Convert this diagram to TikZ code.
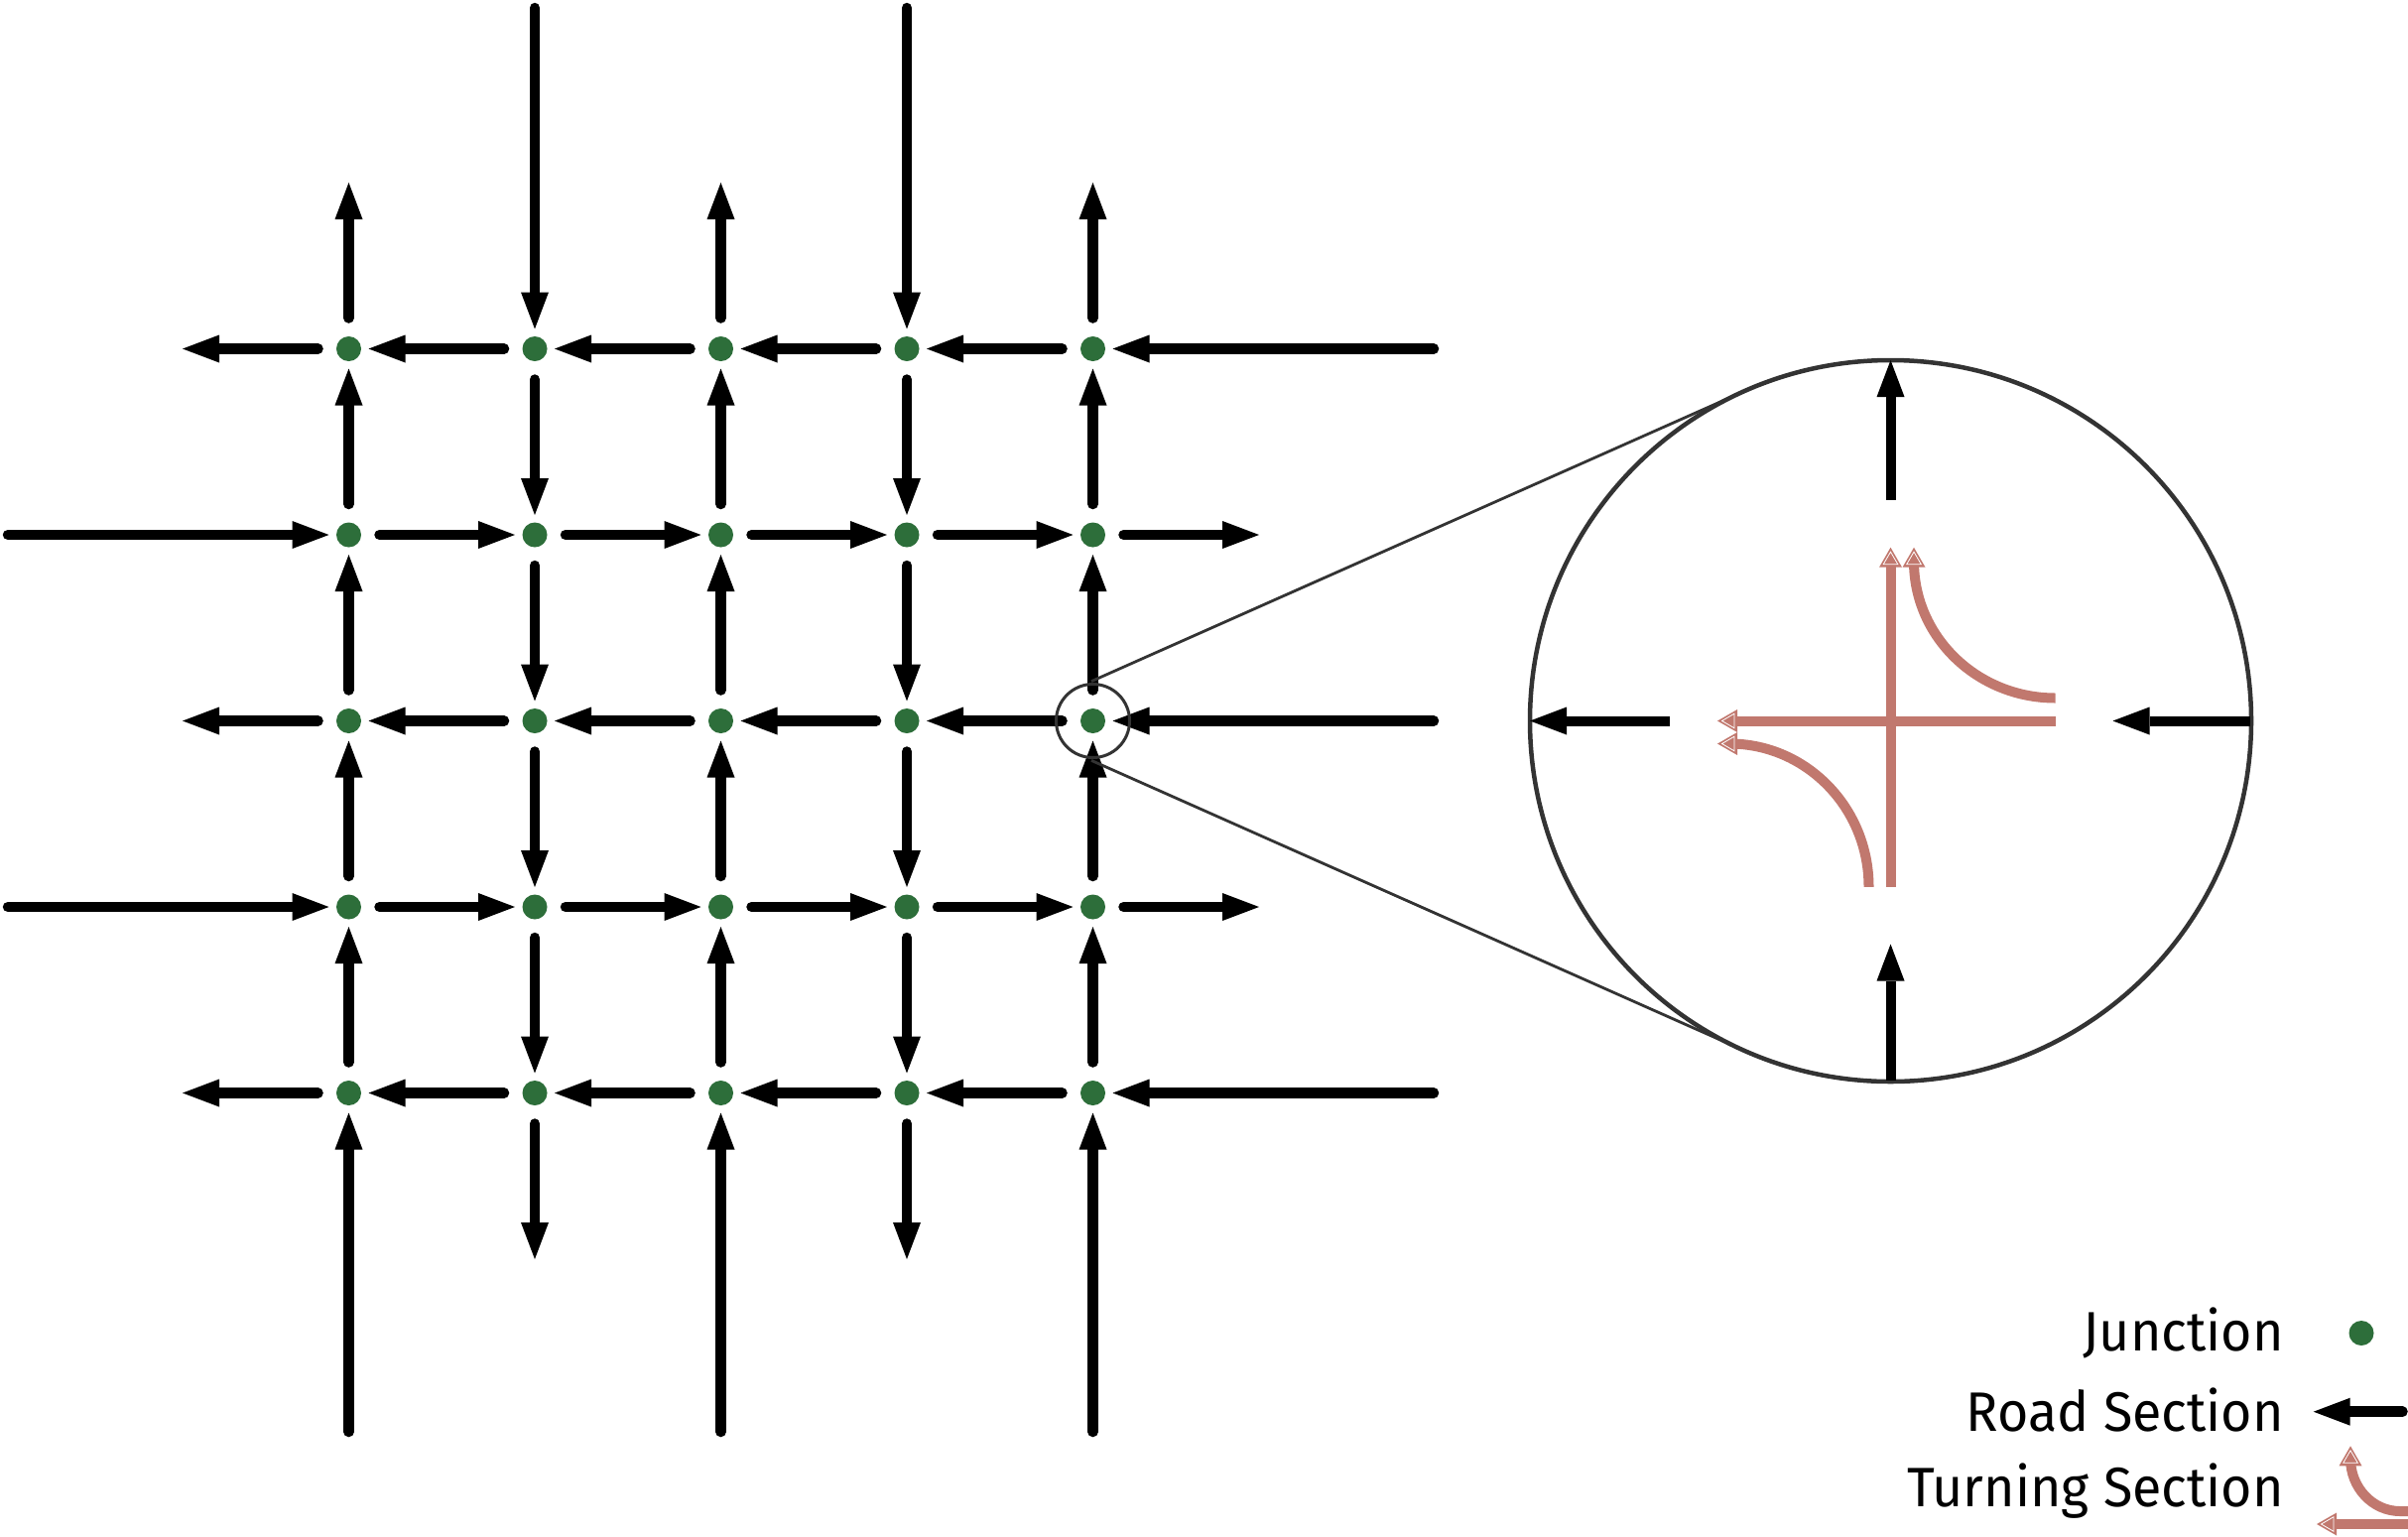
\documentclass[tikz,border=0pt]{standalone}
\usepackage{fontspec}
\setmainfont{Fira Sans}[FakeStretch=0.96]
\usetikzlibrary{arrows.meta}
\definecolor{junc}{RGB}{45,110,58}
\definecolor{pinkc}{RGB}{193,120,110}
\definecolor{ring}{RGB}{51,51,51}
\tikzset{
  jdot/.style={circle, fill=junc, minimum size=25pt, inner sep=0pt},
  road/.style={line width=10.5pt, line cap=round, -{Triangle[length=37pt,width=28pt,line width=0pt]}, shorten <=31pt, shorten >=20pt},
  roadin/.style={line width=10.5pt, line cap=round, -{Triangle[length=37pt,width=28pt,line width=0pt]}, shorten >=20pt},
  roadz/.style={line width=10pt, -{Triangle[length=37pt,width=28pt,line width=0pt]}},
  turn/.style={draw=pinkc, line width=10pt},
  ptip/.pic={\fill[pinkc] (0,0) -- (-20,11.5) -- (-20,-11.5) -- cycle;
             \draw[white, line width=0.8pt, line join=miter] (-4.5,0) -- (-17,7.3) -- (-17,-7.3) -- cycle;},
  lbl/.style={anchor=base east, inner sep=0pt, font=\fontsize{56}{60}\selectfont}
}
\begin{document}
\begin{tikzpicture}[x=1pt,y=-1pt]
\useasboundingbox (0,0) rectangle (2427,1548);
% junctions
\foreach \r in {1,...,5}{
  \foreach \c in {1,...,5}{
    \node[jdot] (j\r\c) at ({351.5+187.5*(\c-1)},{351.5+187.5*(\r-1)}) {};
  }
}
% rows flowing left
\foreach \r in {1,3,5}{
  \coordinate (oL\r) at (164,{351.5+187.5*(\r-1)});
  \coordinate (iR\r) at (1445,{351.5+187.5*(\r-1)});
  \foreach \a/\b in {2/1,3/2,4/3,5/4}{
    \draw[road] (j\r\a.center) -- (j\r\b.center);
  }
  \draw[road] (j\r1.center) -- (oL\r);
  \draw[roadin] (iR\r) -- (j\r5.center);
}
% rows flowing right
\foreach \r in {2,4}{
  \coordinate (iL\r) at (8,{351.5+187.5*(\r-1)});
  \coordinate (oR\r) at (1289,{351.5+187.5*(\r-1)});
  \foreach \a/\b in {1/2,2/3,3/4,4/5}{
    \draw[road] (j\r\a.center) -- (j\r\b.center);
  }
  \draw[roadin] (iL\r) -- (j\r1.center);
  \draw[road] (j\r5.center) -- (oR\r);
}
% columns flowing up
\foreach \c in {1,3,5}{
  \coordinate (oT\c) at ({351.5+187.5*(\c-1)},164);
  \coordinate (iB\c) at ({351.5+187.5*(\c-1)},1443);
  \foreach \a/\b in {2/1,3/2,4/3,5/4}{
    \draw[road] (j\a\c.center) -- (j\b\c.center);
  }
  \draw[road] (j1\c.center) -- (oT\c);
  \draw[roadin] (iB\c) -- (j5\c.center);
}
% columns flowing down
\foreach \c in {2,4}{
  \coordinate (iT\c) at ({351.5+187.5*(\c-1)},8);
  \coordinate (oB\c) at ({351.5+187.5*(\c-1)},1289);
  \foreach \a/\b in {1/2,2/3,3/4,4/5}{
    \draw[road] (j\a\c.center) -- (j\b\c.center);
  }
  \draw[roadin] (iT\c) -- (j1\c.center);
  \draw[road] (j5\c.center) -- (oB\c);
}
% magnifier
\node[circle, draw=ring, line width=3pt, minimum size=74pt, inner sep=0pt] (mag) at (j35.center) {};
\node[circle, draw=ring, line width=4.5pt, minimum size=727pt, inner sep=0pt] (big) at (1905.5,726.5) {};
\coordinate (t1a) at (1100,686.6);
\coordinate (t1b) at (1758,394.3);
\coordinate (t2a) at (1100,766.4);
\coordinate (t2b) at (1758,1058.7);
\draw[ring, line width=2.8pt] (t1a) -- (t1b);
\draw[ring, line width=2.8pt] (t2a) -- (t2b);
% black arrows in the enlarged junction
\coordinate (bNt) at (1905.5,503.5);  \coordinate (bNh) at (1905.5,363);
\coordinate (bWt) at (1682.5,726.5);  \coordinate (bWh) at (1542,726.5);
\coordinate (bEt) at (2268,726.5);    \coordinate (bEh) at (2129.5,726.5);
\coordinate (bSt) at (1905.5,1089);   \coordinate (bSh) at (1905.5,951.5);
\draw[roadz] (bNt) -- (bNh);
\draw[roadz] (bWt) -- (bWh);
\draw[roadz] (bEt) -- (bEh);
\draw[roadz] (bSt) -- (bSh);
% turning sections
\coordinate (pV0) at (1905.5,893.8); \coordinate (pV1) at (1905.5,563.7); \coordinate (pVt) at (1905.5,551.7);
\coordinate (pH0) at (2071.6,726.5); \coordinate (pH1) at (1743,726.5);  \coordinate (pHt) at (1731,726.5);
\coordinate (pR0) at (2071.6,703.5); \coordinate (pR1) at (1929,566);    \coordinate (pRt) at (1929,551.7);
\coordinate (pL0) at (1883.5,893.8); \coordinate (pL1) at (1743,749.5);  \coordinate (pLt) at (1731,749.5);
\draw[turn] (pV0) -- (pV1);
\draw[turn] (pH0) -- (pH1);
\draw[turn] (pR0) .. controls (1992.8,703.5) and (1929,641.9) .. (pR1);
\draw[turn] (pL0) .. controls (1883.5,814.1) and (1820.6,749.5) .. (pL1);
\pic[rotate=90] at (pVt) {ptip};
\pic[rotate=90] at (pRt) {ptip};
\pic[rotate=180] at (pHt) {ptip};
\pic[rotate=180] at (pLt) {ptip};
% legend
\node[lbl] (lj) at (2302,1361.7) {Junction};
\node[lbl] (lr) at (2302,1442.7) {Road Section};
\node[lbl] (lt) at (2302,1518.3) {Turning Section};
\node[jdot] (ljd) at (2380,1343.5) {};
\coordinate (lrt) at (2421.5,1422.7); \coordinate (lrh) at (2331.7,1422.7);
\draw[line width=10.5pt, line cap=round, -{Triangle[length=37pt,width=28pt,line width=0pt]}] (lrt) -- (lrh);
\coordinate (lc0) at (2427,1523); \coordinate (lc1) at (2419,1523); \coordinate (lc2) at (2369,1470); \coordinate (lct) at (2369,1457.3);
\draw[turn] (lc0) -- (lc1) .. controls (2391.4,1523) and (2369,1499.3) .. (lc2);
\coordinate (ls0) at (2427,1536); \coordinate (ls1) at (2347,1536); \coordinate (lst) at (2335,1536);
\draw[turn] (ls0) -- (ls1);
\pic[rotate=90] at (lct) {ptip};
\pic[rotate=180] at (lst) {ptip};
\end{tikzpicture}
\end{document}
